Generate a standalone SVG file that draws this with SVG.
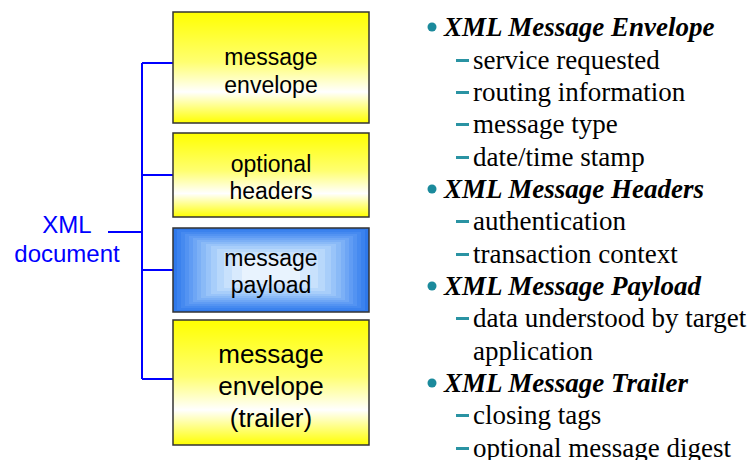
<svg xmlns="http://www.w3.org/2000/svg" width="756" height="460" viewBox="0 0 756 460">
<defs>
<linearGradient id="yel" x1="0" y1="0" x2="0" y2="1">
<stop offset="0" stop-color="#ffff00"/>
<stop offset="0.45" stop-color="#ffff70"/>
<stop offset="0.72" stop-color="#ffffff"/>
<stop offset="1" stop-color="#ffff00"/>
</linearGradient>
</defs>
<style>
.box{stroke:#333333;stroke-width:1.5}
.bt{font-family:"Liberation Sans",Arial,sans-serif;font-size:23px;fill:#000;text-anchor:middle}
.bt4{font-size:26px}
.con{stroke:#0000ff;stroke-width:2;fill:none}
.lbl{font-family:"Liberation Sans",Arial,sans-serif;font-size:24px;fill:#0000ff;text-anchor:middle}
.h{font-family:"Liberation Serif","Times New Roman",serif;font-size:27px;font-weight:bold;font-style:italic;fill:#000}
.s{font-family:"Liberation Serif","Times New Roman",serif;font-size:27px;fill:#000}
.dot{fill:#1b8a9c}
.dash{fill:#2a93a3}
</style>
<g id="connectors">
<path class="con" d="M142 63 V379 M142 63 H173 M142 175 H175 M142 270 H173 M142 379 H173 M108 232 H143"/>
</g>
<g id="xml-document">
<text class="lbl" x="67" y="233">XML</text>
<text class="lbl" x="67" y="262">document</text>
</g>
<g id="envelope">
<rect class="box" x="173" y="12" width="196" height="111" fill="url(#yel)"/>
<text class="bt" x="271" y="65">message</text>
<text class="bt" x="271" y="93">envelope</text>
</g>
<g id="headers">
<rect class="box" x="173" y="133" width="196" height="84" fill="url(#yel)"/>
<text class="bt" x="271" y="172">optional</text>
<text class="bt" x="271" y="199">headers</text>
</g>
<g id="payload">
<rect x="173" y="228" width="196" height="84" fill="#2f78ea"/>
<rect x="177" y="230" width="188" height="80" fill="#3b82ee"/>
<rect x="181" y="232" width="180" height="76" fill="#468af0"/>
<rect x="185" y="234" width="172" height="72" fill="#5393f2"/>
<rect x="189" y="236" width="164" height="68" fill="#609cf4"/>
<rect x="193" y="238" width="156" height="64" fill="#6ea6f5"/>
<rect x="197" y="240" width="148" height="60" fill="#7cb0f6"/>
<rect x="201" y="242" width="140" height="56" fill="#8abaf7"/>
<rect x="206" y="244" width="130" height="52" fill="#99c4f9"/>
<rect x="211" y="246" width="120" height="48" fill="#a8cefa"/>
<rect x="217" y="249" width="108" height="42" fill="#b8d8fb"/>
<rect x="224" y="252" width="94" height="36" fill="#c8e1fc"/>
<rect x="232" y="256" width="78" height="28" fill="#d8eafd"/>
<rect x="242" y="260" width="58" height="20" fill="#e8f3fe"/>
<rect class="box" x="173" y="228" width="196" height="84" fill="none"/>
<text class="bt" x="271" y="266">message</text>
<text class="bt" x="271" y="293">payload</text>
</g>
<g id="trailer">
<rect class="box" x="173" y="320" width="196" height="125" fill="url(#yel)"/>
<text class="bt bt4" x="271" y="363">message</text>
<text class="bt bt4" x="271" y="395">envelope</text>
<text class="bt bt4" x="271" y="427">(trailer)</text>
</g>
<g id="list">
<circle class="dot" cx="432" cy="27" r="4.5"/>
<text class="h" x="444" y="36">XML Message Envelope</text>
<rect class="dash" x="456" y="59" width="13" height="3"/>
<text class="s" x="473" y="69">service requested</text>
<rect class="dash" x="456" y="91" width="13" height="3"/>
<text class="s" x="473" y="101">routing information</text>
<rect class="dash" x="456" y="123" width="13" height="3"/>
<text class="s" x="473" y="133">message type</text>
<rect class="dash" x="456" y="156" width="13" height="3"/>
<text class="s" x="473" y="165.5">date/time stamp</text>
<circle class="dot" cx="432" cy="189" r="4.5"/>
<text class="h" x="444" y="198">XML Message Headers</text>
<rect class="dash" x="456" y="220" width="13" height="3"/>
<text class="s" x="473" y="230">authentication</text>
<rect class="dash" x="456" y="253" width="13" height="3"/>
<text class="s" x="473" y="262.5">transaction context</text>
<circle class="dot" cx="432" cy="286" r="4.5"/>
<text class="h" x="444" y="295">XML Message Payload</text>
<rect class="dash" x="456" y="317" width="13" height="3"/>
<text class="s" x="473" y="327">data understood by target</text>
<text class="s" x="473" y="359.5">application</text>
<circle class="dot" cx="432" cy="383" r="4.5"/>
<text class="h" x="444" y="392">XML Message Trailer</text>
<rect class="dash" x="456" y="414" width="13" height="3"/>
<text class="s" x="473" y="424">closing tags</text>
<rect class="dash" x="456" y="447" width="13" height="3"/>
<text class="s" x="473" y="456.5">optional message digest</text>
</g>
</svg>
